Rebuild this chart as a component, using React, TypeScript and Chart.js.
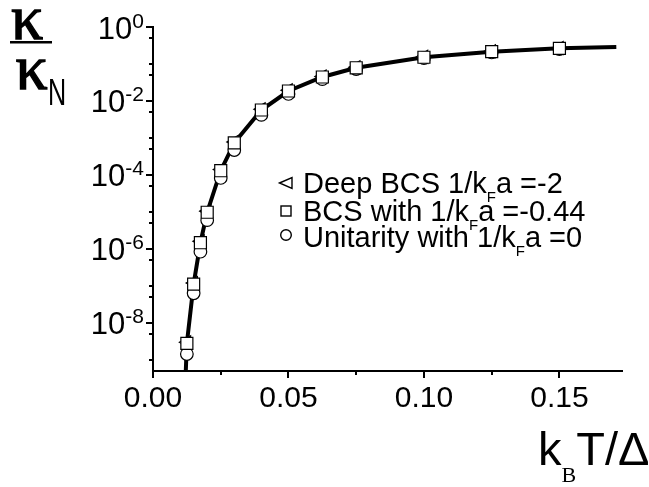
import React, { useEffect, useRef } from 'react';
import { Chart, registerables } from 'chart.js';

Chart.register(...registerables);

// Reduced temperature k_B T / Δ of the data points
const temps = [0.0125, 0.015, 0.0175, 0.02, 0.025, 0.03, 0.04, 0.05, 0.0625, 0.075, 0.1, 0.125, 0.15];
// κ/κ_N for each interaction strength
const deepBCS = [3.0e-9, 1.2e-7, 1.6e-6, 1.05e-5, 1.4e-4, 7.8e-4, 6.0e-3, 1.95e-2, 4.6e-2, 8.1e-2, 0.156, 0.22, 0.27];
const bcs = [2.8e-9, 1.12e-7, 1.47e-6, 9.8e-6, 1.3e-4, 7.4e-4, 5.7e-3, 1.86e-2, 4.45e-2, 7.9e-2, 0.152, 0.215, 0.265];
const unitarity = [1.44e-9, 6.3e-8, 8.4e-7, 6.0e-6, 8.3e-5, 4.7e-4, 4.2e-3, 1.55e-2, 3.9e-2, 7.3e-2, 0.145, 0.205, 0.254];
// theory curve
const fitT = [0.0121, 0.0125, 0.015, 0.0175, 0.02, 0.025, 0.03, 0.04, 0.05, 0.0625, 0.075, 0.1, 0.125, 0.15, 0.171];
const fitK = [5e-10, 2.8e-9, 1.12e-7, 1.47e-6, 9.8e-6, 1.3e-4, 7.4e-4, 5.7e-3, 1.86e-2, 4.45e-2, 7.9e-2, 0.152, 0.215, 0.265, 0.288];

// axes
const xMin = 0;
const xMax = 0.1731;
const yMin = 5e-10;
const yMax = 1;
const xTickVals = [0, 0.025, 0.05, 0.075, 0.1, 0.125, 0.15];
const xLabelVals = [0, 0.05, 0.1, 0.15];
const xTickLabels = ['0.00', '0.05', '0.10', '0.15'];
const yMajorVals = [1, 1e-2, 1e-4, 1e-6, 1e-8];
const yMajorExps = ['0', '-2', '-4', '-6', '-8'];
const yMinorVals = [5e-1, 1e-1, 5e-2, 5e-3, 1e-3, 5e-4, 5e-5, 1e-5, 5e-6, 5e-7, 1e-7, 5e-8, 5e-9, 1e-9];

// legend
const legendPre = ['Deep BCS 1/k', 'BCS with 1/k', 'Unitarity with 1/k'];
const legendSub = 'F';
const legendPost = ['a =-2', 'a =-0.44', 'a =0'];

const SANS = '"Liberation Sans", Arial, Helvetica, sans-serif';
const SERIF = '"Liberation Serif", "Times New Roman", serif';

const decorPlugin = {
  id: 'decor',
  afterDraw(chart: any) {
    const ctx: CanvasRenderingContext2D = chart.ctx;
    const xs = chart.scales.x;
    const ys = chart.scales.y;
    const area = chart.chartArea;
    ctx.save();
    ctx.fillStyle = '#000';
    ctx.strokeStyle = '#000';
    ctx.lineWidth = 2;
    ctx.lineCap = 'butt';

    // x ticks
    xTickVals.forEach((v) => {
      const px = Math.round(xs.getPixelForValue(v));
      const major = xLabelVals.some((m) => Math.abs(m - v) < 1e-9);
      const len = major ? 7 : 4;
      ctx.beginPath();
      ctx.moveTo(px, area.bottom);
      ctx.lineTo(px, area.bottom + len);
      ctx.stroke();
    });
    ctx.font = '30px ' + SANS;
    ctx.textAlign = 'center';
    ctx.textBaseline = 'alphabetic';
    xLabelVals.forEach((v, i) => {
      ctx.fillText(xTickLabels[i], xs.getPixelForValue(v), 407);
    });

    // y ticks
    const yTick = (v: number, len: number) => {
      const py = Math.round(ys.getPixelForValue(v));
      ctx.beginPath();
      ctx.moveTo(area.left, py);
      ctx.lineTo(area.left - len, py);
      ctx.stroke();
    };
    yMajorVals.forEach((v) => yTick(v, 7));
    yMinorVals.forEach((v) => yTick(v, 4));

    // y labels 10^n
    ctx.textAlign = 'left';
    yMajorVals.forEach((v, i) => {
      const py = ys.getPixelForValue(v);
      ctx.font = '31px ' + SANS;
      const w10 = ctx.measureText('10').width;
      ctx.font = '21px ' + SANS;
      const wExp = ctx.measureText(yMajorExps[i]).width;
      const x0 = 144 - w10 - wExp;
      ctx.font = '31px ' + SANS;
      ctx.fillText('10', x0, py + 11.5);
      ctx.font = '21px ' + SANS;
      ctx.fillText(yMajorExps[i], x0 + w10, py + 0.5);
    });

    // legend
    const lx = 286;
    const tx = 303;
    const base = [193, 220.5, 246.5];
    ctx.lineWidth = 1.4;
    // triangle
    ctx.beginPath();
    ctx.moveTo(lx - 6.5, base[0] - 10);
    ctx.lineTo(lx + 6, base[0] - 15.5);
    ctx.lineTo(lx + 6, base[0] - 4.5);
    ctx.closePath();
    ctx.stroke();
    // square
    ctx.strokeRect(lx - 5, base[1] - 14.5, 10, 10);
    // circle
    ctx.beginPath();
    ctx.arc(lx, base[2] - 11.5, 5.3, 0, Math.PI * 2);
    ctx.stroke();

    legendPre.forEach((pre, i) => {
      let x = tx;
      ctx.font = '29px ' + SANS;
      ctx.fillText(pre, x, base[i]);
      x += ctx.measureText(pre).width;
      ctx.font = '15px ' + SANS;
      ctx.fillText(legendSub, x, base[i] + 9);
      x += ctx.measureText(legendSub).width;
      ctx.font = '29px ' + SANS;
      ctx.fillText(legendPost[i], x, base[i]);
    });

    // x axis title k_B T/Δ
    ctx.font = '47px ' + SANS;
    let ax = 538;
    ctx.fillText('k', ax, 465);
    ax += ctx.measureText('k').width;
    ctx.font = '22px ' + SERIF;
    ctx.fillText('B', ax, 482);
    ax += ctx.measureText('B').width;
    ctx.font = '47px ' + SANS;
    ctx.fillText('T/Δ', ax, 465);

    // y axis title κ / κ_N
    ctx.font = '64px ' + SERIF;
    ctx.textAlign = 'center';
    ctx.lineWidth = 1.3;
    ctx.fillText('κ', 27, 38.5);
    ctx.strokeText('κ', 27, 38.5);
    ctx.fillRect(10, 41, 42, 2.5);
    ctx.fillText('κ', 31.5, 88.5);
    ctx.strokeText('κ', 31.5, 88.5);
    ctx.textAlign = 'left';
    ctx.save();
    ctx.translate(48, 105);
    ctx.scale(0.68, 1);
    ctx.font = '37px ' + SANS;
    ctx.fillText('N', 0, 0);
    ctx.restore();

    ctx.restore();
  },
};

const toXY = (xs: number[], ys: number[]) => xs.map((x, i) => ({ x, y: ys[i] }));

export default function App() {
  const ref = useRef<HTMLCanvasElement | null>(null);
  useEffect(() => {
    if (!ref.current) return;
    const marker = {
      showLine: false,
      borderColor: '#000',
      backgroundColor: '#fff',
      pointBorderColor: '#000',
      pointBackgroundColor: '#fff',
      pointBorderWidth: 1.2,
    };
    const chart = new Chart(ref.current, {
      type: 'scatter',
      data: {
        datasets: [
          { ...marker, label: 'BCS with 1/kFa=-0.44', data: toXY(temps, bcs), pointStyle: 'rect', pointRadius: 8.5 },
          { ...marker, label: 'Unitarity with 1/kFa=0', data: toXY(temps, unitarity), pointStyle: 'circle', pointRadius: 6.3 },
          { ...marker, label: 'Deep BCS 1/kFa=-2', data: toXY(temps, deepBCS), pointStyle: 'triangle', pointRotation: -90, pointRadius: 7.5 },
          {
            label: 'fit',
            type: 'line',
            data: toXY(fitT, fitK),
            showLine: true,
            borderColor: '#000',
            borderWidth: 4,
            pointRadius: 0,
            tension: 0,
            fill: false,
          } as any,
        ],
      },
      options: {
        animation: false,
        responsive: false,
        events: [],
        layout: { padding: { top: 27, right: 27, left: 0, bottom: 0 } },
        plugins: { legend: { display: false }, tooltip: { enabled: false }, title: { display: false } },
        scales: {
          x: {
            type: 'linear',
            min: xMin,
            max: xMax,
            grid: { display: false },
            ticks: { display: false },
            border: { display: true, color: '#000', width: 2 },
            afterFit: (s: any) => { s.height = 116; },
          },
          y: {
            type: 'logarithmic',
            min: yMin,
            max: yMax,
            grid: { display: false },
            ticks: { display: false },
            border: { display: true, color: '#000', width: 2 },
            afterFit: (s: any) => { s.width = 153; },
          },
        },
      },
      plugins: [decorPlugin],
    });
    return () => chart.destroy();
  }, []);
  return (
    <div style={{ position: 'absolute', left: 0, top: 0, width: 649, height: 487, background: '#fff' }}>
      <canvas ref={ref} width={649} height={487} style={{ display: 'block' }} />
    </div>
  );
}
